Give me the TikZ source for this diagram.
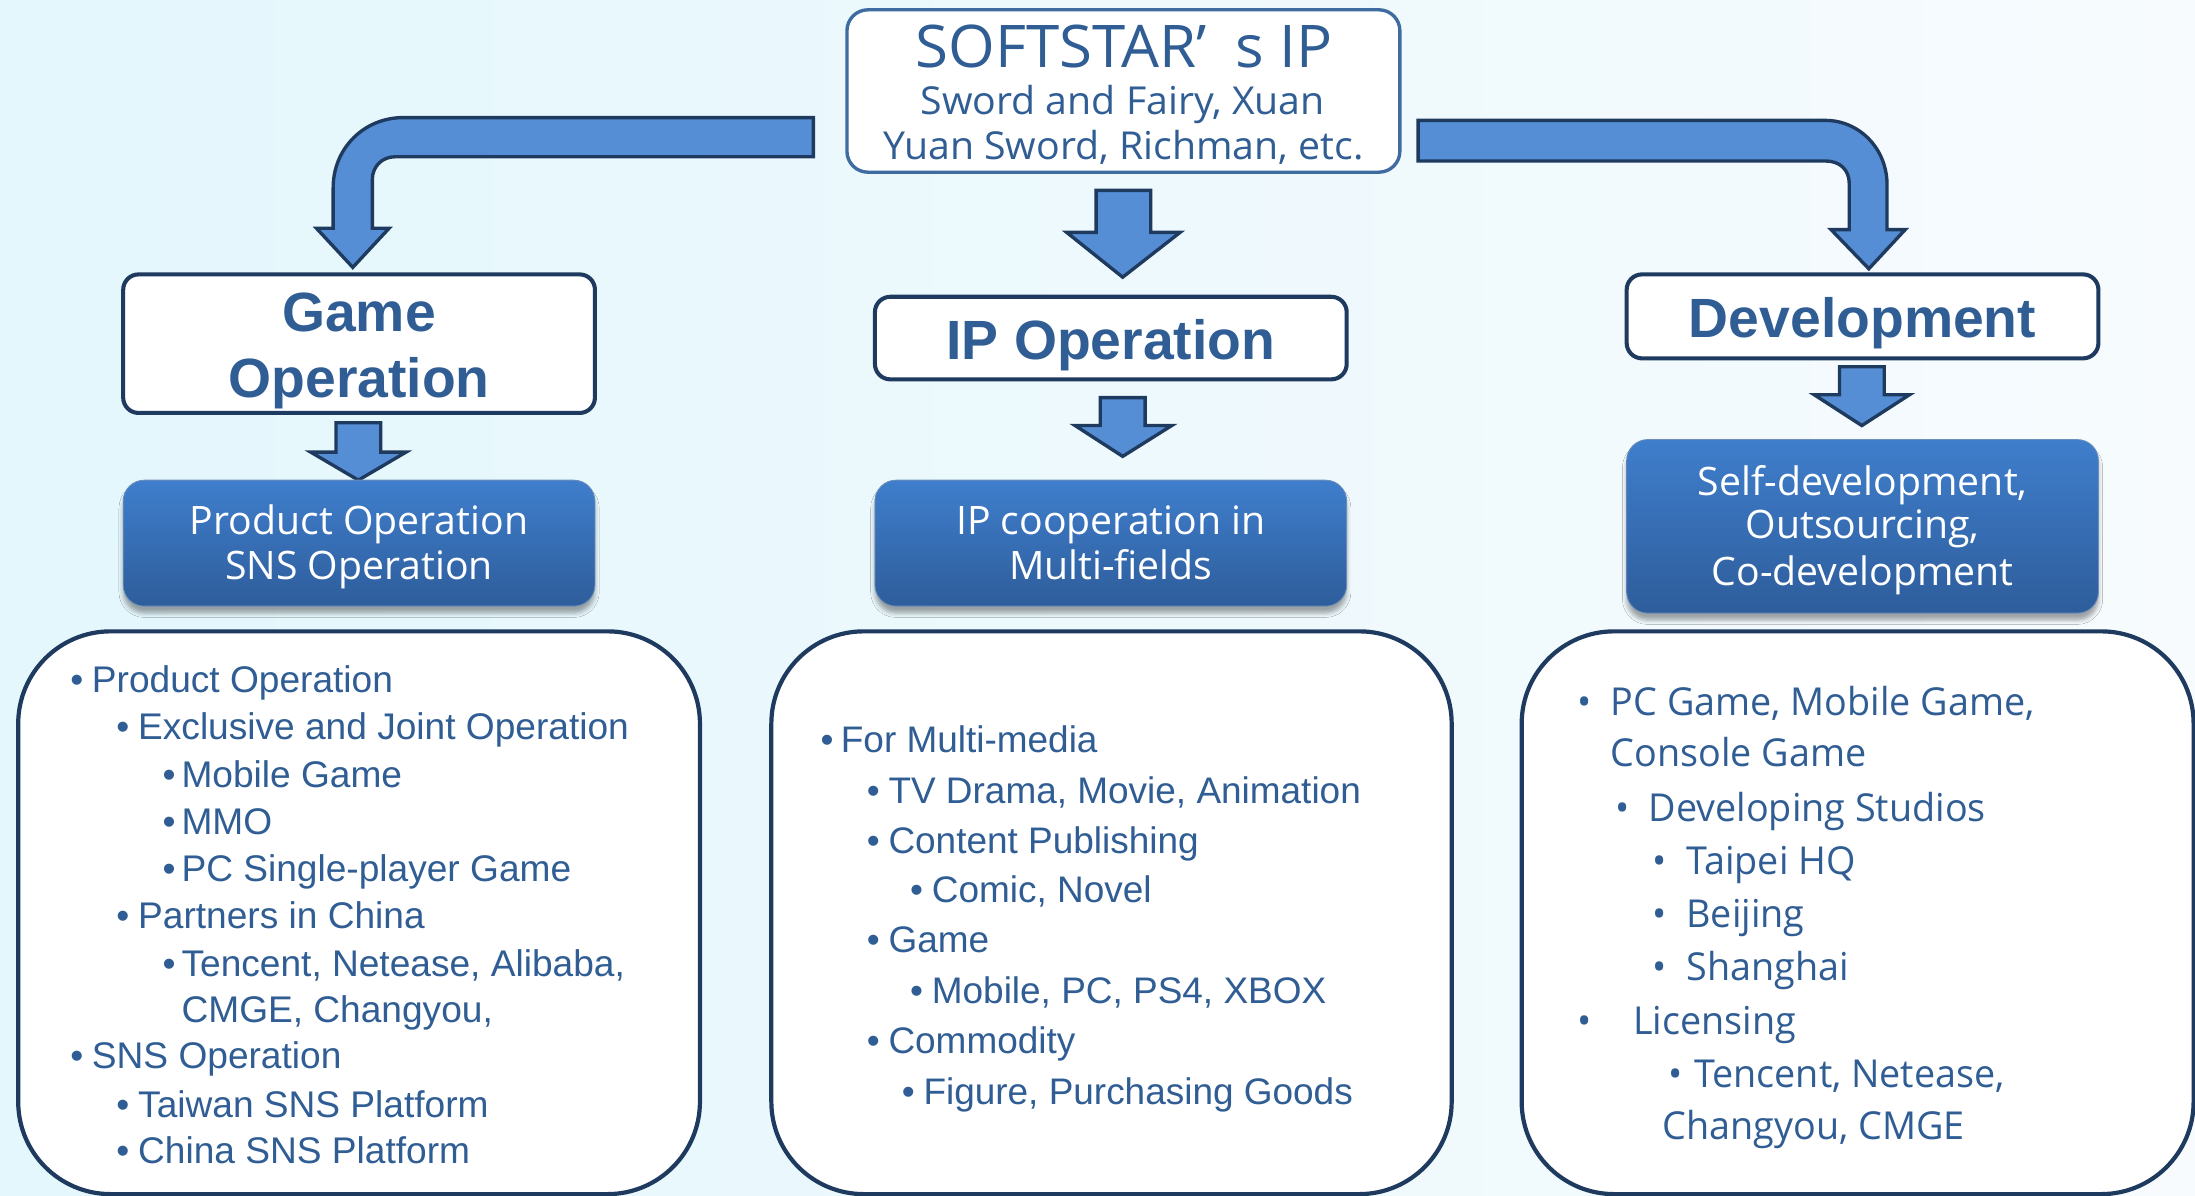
\documentclass[tikz,border=0pt]{standalone}
\usepackage{fontspec}
\setmainfont{Liberation Sans}
\newfontfamily\seg[FakeStretch=0.98]{Open Sans}
\newfontfamily\segw[FakeStretch=1.02]{Open Sans}
\newfontfamily\segb[FakeStretch=1.0]{Open Sans}
\usetikzlibrary{shadows.blur}
\definecolor{txt}{HTML}{2F5D94}
\definecolor{navy}{HTML}{1F3A5F}
\definecolor{topbord}{HTML}{3E6BA0}
\definecolor{arrowfill}{HTML}{558ED5}
\definecolor{bluetop}{HTML}{3F7ECC}
\definecolor{bluebot}{HTML}{2E5D9B}
\definecolor{bgL}{HTML}{E3F7FC}
\definecolor{bgR}{HTML}{F7FBFE}
\newcommand\bl[6]{%
  \node[#5,anchor=base west] (#1b) at (#2,#4) {•};
  \node[#5,anchor=base west] (#1) at (#3,#4) {#6};}
\newcommand\nb[4]{%
  \node[#3,anchor=base west] (#1) at (#2) {#4};}
\begin{document}
\begin{tikzpicture}[x=1pt,y=-1pt,
  hdrbox/.style={draw=navy,line width=2.9pt,fill=white,rounded corners=11pt,inner sep=0pt},
  topbox/.style={draw=topbord,line width=2.4pt,fill=white,rounded corners=15pt,inner sep=0pt},
  bluebox/.style={rounded corners=15pt,top color=bluetop,bottom color=bluebot,draw=bluebot!70!white,line width=0.6pt,inner sep=0pt,
    blur shadow={shadow xshift=0pt,shadow yshift=-5pt,shadow blur radius=3pt,shadow opacity=35}},
  listbox/.style={draw=navy,line width=3pt,fill=white,rounded corners=66pt,inner sep=0pt},
  barrow/.style={fill=arrowfill,draw=navy,line width=2.4pt,line join=miter},
  hdrtxt/.style={font=\fontsize{39.5}{40}\selectfont\bfseries,text=txt,inner sep=0pt,anchor=base},
  wtxt/.style={font=\segb\fontsize{28}{28}\selectfont,text=white,inner sep=0pt,anchor=base},
  ttl/.style={font=\segw\fontsize{42}{42}\selectfont,text=txt,inner sep=0pt,anchor=base},
  sub/.style={font=\segw\fontsize{27.5}{28}\selectfont,text=txt,inner sep=0pt,anchor=base},
  lt/.style={font=\fontsize{26.5}{27}\selectfont,text=txt,inner sep=0pt},
  mt/.style={font=\fontsize{26.4}{27}\selectfont,text=txt,inner sep=0pt},
  rt/.style={font=\seg\fontsize{27.5}{28}\selectfont,text=txt,inner sep=0pt}
]
\useasboundingbox (0,0) rectangle (1568,854);
\shade[left color=bgL,right color=bgR] (0,0) rectangle (1568,854);

% top box
\node[topbox,minimum width=395pt,minimum height=116pt] (ip) at (802.5,65) {};
\node[ttl] (ipt) at (803,48) {SOFTSTAR’\hspace{0.5em}s IP};
\node[sub] (ips1) at (802,82) {Sword and Fairy, Xuan};
\node[sub] (ips2) at (802.5,114) {Yuan Sword, Richman, etc.};

% bent arrows
\draw[barrow] (581,84) -- (288,84) .. controls (260,84) and (238,106) .. (238,134)
  -- (238,163) -- (226,163) -- (252,191) -- (278,163) -- (266,163) -- (266,128)
  .. controls (266,119) and (273,112) .. (282,112) -- (581,112) -- cycle;
\draw[barrow] (1013,86) -- (1304,86) .. controls (1328,86) and (1348,106) .. (1348,132)
  -- (1348,164) -- (1361,164) -- (1335,192) -- (1308,164) -- (1321,164) -- (1321,131)
  .. controls (1321,121) and (1314,115) .. (1304,115) -- (1013,115) -- cycle;
% middle big arrow
\draw[barrow] (783,136) -- (822,136) -- (822,166) -- (843,166) -- (802,198) -- (762,166) -- (783,166) -- cycle;

% header boxes
\node[hdrbox,minimum width=337pt,minimum height=99pt] (game) at (256.5,245.5) {};
\node[hdrtxt] (gamet1) at (256.5,237) {Game};
\node[hdrtxt] (gamet2) at (256.5,284) {Operation};
\node[hdrbox,minimum width=337pt,minimum height=59pt] (ipop) at (793.5,241.5) {};
\node[hdrtxt] (ipopt) at (793.5,257) {IP Operation};
\node[hdrbox,minimum width=337pt,minimum height=60pt] (dev) at (1330.5,226) {};
\node[hdrtxt] (devt) at (1330.5,241) {Development};

% small arrows
\draw[barrow] (240,302) -- (272,302) -- (272,323) -- (290,323) -- (256,343) -- (222,323) -- (240,323) -- cycle;
\draw[barrow] (786,284) -- (818,284) -- (818,304) -- (837,304) -- (802,326) -- (768,304) -- (786,304) -- cycle;
\draw[barrow] (1314,262) -- (1346,262) -- (1346,282) -- (1364,282) -- (1330,304) -- (1296,282) -- (1314,282) -- cycle;

% blue boxes
\node[bluebox,minimum width=337pt,minimum height=90pt] (prod) at (256.5,388) {};
\node[wtxt] (prodt1) at (256.5,382) {Product Operation};
\node[wtxt] (prodt2) at (256.5,414) {SNS Operation};
\node[bluebox,minimum width=337pt,minimum height=90pt] (coop) at (793.5,388) {};
\node[wtxt] (coopt1) at (793.5,382) {IP cooperation in};
\node[wtxt] (coopt2) at (793.5,414) {Multi-fields};
\node[bluebox,minimum width=337pt,minimum height=124pt] (self) at (1330.5,376) {};
\node[wtxt] (selft1) at (1330.5,354) {Self-development,};
\node[wtxt] (selft2) at (1330.5,385) {Outsourcing,};
\node[wtxt] (selft3) at (1330.5,418) {Co-development};

% list boxes
\node[listbox,minimum width=487pt,minimum height=402pt] (lbox) at (256.5,652) {};
\node[listbox,minimum width=486pt,minimum height=402pt] (mbox) at (794,652) {};
\node[listbox,minimum width=480pt,minimum height=402pt] (rbox) at (1327,652) {};

% left list
\bl{la}{50}{65.5}{494.8}{lt}{Product Operation}
\bl{lb}{83}{98.5}{528.1}{lt}{Exclusive and Joint Operation}
\bl{lc}{116}{129.5}{562.3}{lt}{Mobile Game}
\bl{ld}{116}{129.5}{595.9}{lt}{MMO}
\bl{le}{116}{129.5}{629.7}{lt}{PC Single-player Game}
\bl{lf}{83}{98.5}{663.3}{lt}{Partners in China}
\bl{lg}{116}{129.5}{697.4}{lt}{Tencent, Netease, Alibaba,}
\nb{lh}{129.5,730.2}{lt}{CMGE, Changyou,}
\bl{li}{50}{65.5}{763.6}{lt}{SNS Operation}
\bl{lj}{83}{98.5}{798.4}{lt}{Taiwan SNS Platform}
\bl{lk}{83}{98.5}{831.2}{lt}{China SNS Platform}

% middle list
\bl{ma}{586}{600.5}{537.4}{mt}{For Multi-media}
\bl{mb}{619}{634.5}{574.1}{mt}{TV Drama, Movie, Animation}
\bl{mc}{619}{634.5}{609.5}{mt}{Content Publishing}
\bl{md}{650}{665.5}{645}{mt}{Comic, Novel}
\bl{me}{619}{634.5}{680.4}{mt}{Game}
\bl{mf}{650}{665.5}{717.1}{mt}{Mobile, PC, PS4, XBOX}
\bl{mg}{619}{634.5}{752.5}{mt}{Commodity}
\bl{mh}{644}{659.5}{789.2}{mt}{Figure, Purchasing Goods}

% right list
\bl{ra}{1127}{1150.5}{511}{rt}{PC Game, Mobile Game,}
\nb{rb}{1150.5,547.8}{rt}{Console Game}
\bl{rc}{1154}{1177.5}{586.7}{rt}{Developing Studios}
\bl{rd}{1180.5}{1204.5}{624.4}{rt}{Taipei HQ}
\bl{re}{1180.5}{1204.5}{662.8}{rt}{Beijing}
\bl{rf}{1180.5}{1204.5}{700.6}{rt}{Shanghai}
\bl{rg}{1127}{1166.5}{738.9}{rt}{Licensing}
\bl{rh}{1192}{1210}{776.6}{rt}{Tencent, Netease,}
\nb{ri}{1187.5,814.1}{rt}{Changyou, CMGE}
\end{tikzpicture}
\end{document}
